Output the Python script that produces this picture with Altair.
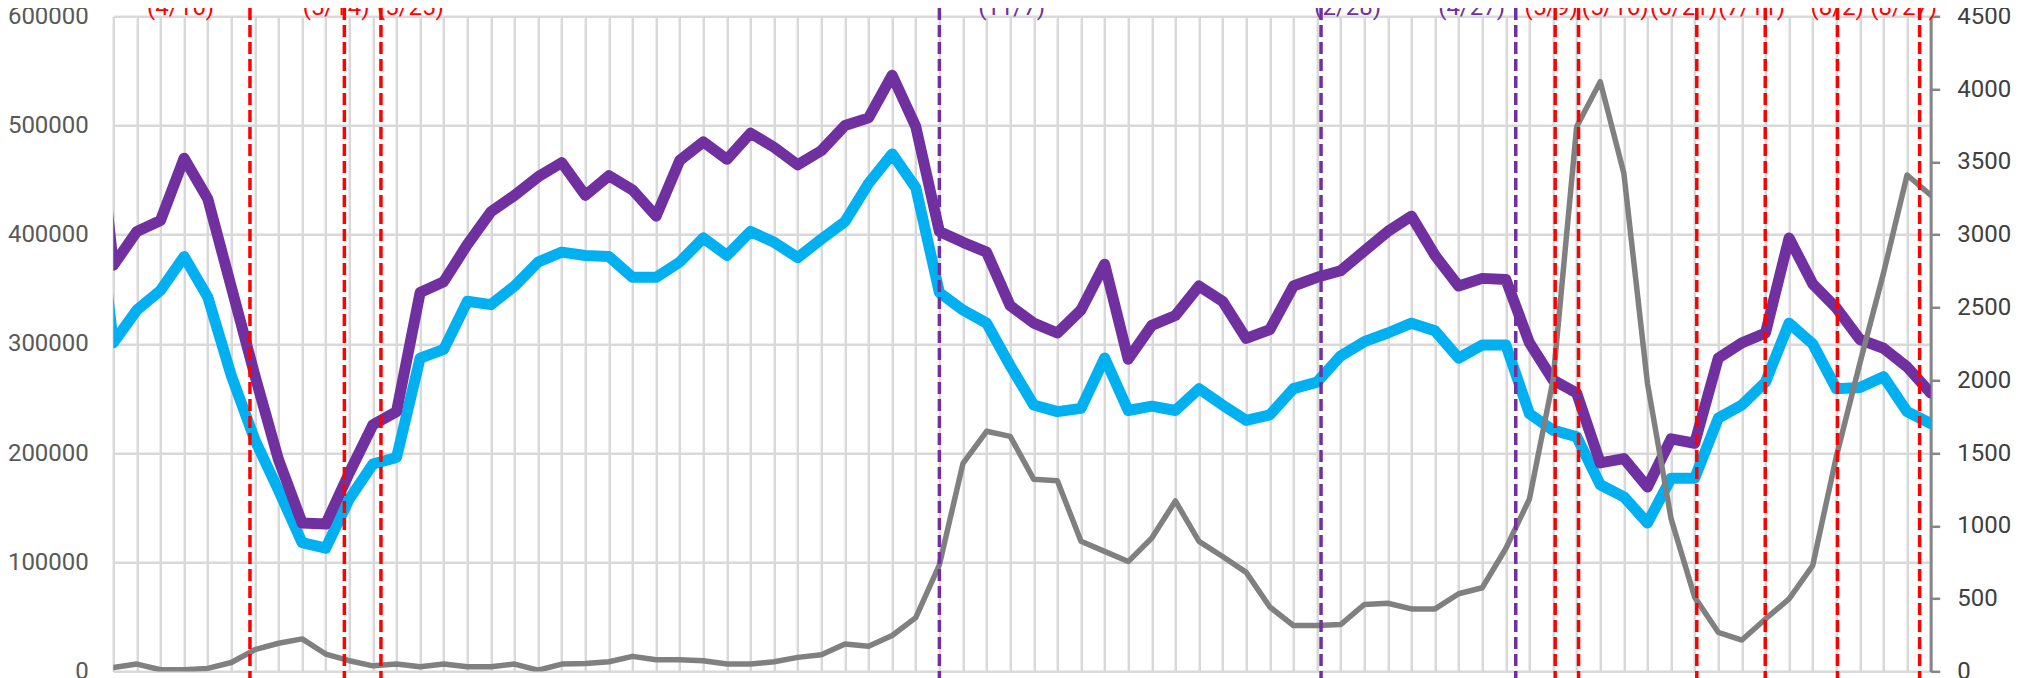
import altair as alt
import pandas as pd

# week index (-1 is a point just outside the left edge; the line is clipped there)
week = list(range(-1, 78))

purple_vals = [575000,
    372000, 403000, 413000, 470000, 433000, 352000, 271000, 194000, 136000, 135000,
    182000, 226000, 238000, 347000, 357000, 391000, 421000, 436000, 453000, 466000,
    436000, 454000, 441000, 417000, 468000, 485000, 469000, 493000, 480000, 464000,
    477000, 500000, 507000, 546000, 499000, 403000, 393000, 384000, 335000, 319000,
    310000, 331000, 373000, 286000, 317000, 326000, 353000, 339000, 305000, 313000,
    353000, 361000, 367000, 385000, 403000, 417000, 381000, 353000, 360000, 359000,
    301000, 267000, 255000, 191000, 195000, 169000, 213000, 209000, 287000, 301000,
    310000, 397000, 355000, 333000, 304000, 296000, 279000, 255000]

cyan_vals = [485000,
    301000, 331000, 349000, 380000, 343000, 271000, 212000, 166000, 118000, 113000,
    158000, 190000, 196000, 287000, 295000, 339000, 336000, 353000, 375000, 384000,
    381000, 380000, 361000, 361000, 375000, 397000, 381000, 403000, 393000, 379000,
    396000, 412000, 447000, 474000, 443000, 347000, 331000, 319000, 280000, 244000,
    238000, 241000, 287000, 239000, 243000, 239000, 259000, 244000, 230000, 235000,
    259000, 265000, 289000, 302000, 310000, 319000, 312000, 287000, 299000, 299000,
    236000, 221000, 215000, 171000, 160000, 136000, 177000, 177000, 232000, 244000,
    265000, 319000, 300000, 259000, 260000, 270000, 238000, 227000]

gray_vals = [40,
    28, 51, 12, 12, 21, 62, 150, 194, 224, 120,
    74, 39, 51, 32, 51, 32, 32, 51, 9, 51,
    55, 67, 104, 81, 81, 74, 51, 51, 67, 97,
    115, 189, 173, 247, 370, 732, 1430, 1650, 1615, 1320,
    1310, 894, 825, 755, 917, 1171, 894, 790, 681, 443,
    316, 316, 322, 460, 469, 430, 430, 534, 575, 845,
    1185, 2000, 3742, 4051, 3422, 1979, 1050, 511, 269, 216,
    361, 499, 727, 1475, 2117, 2735, 3410, 3272]

event_labels = ["(4/16)", "(5/14)", "(5/25)", "(11/7)", "(2/28)", "(4/27)",
                "(5/9)", "(5/16)", "(6/21)", "(7/11)", "(8/2)", "(8/27)"]
event_pos = [5.79, 9.79, 11.34, 35.0, 51.17, 59.42, 61.09, 62.08, 67.09, 69.99, 73.05, 76.53]
label_pos = [2.85, 9.44, 12.59, 38.06, 52.3, 57.55, 60.92, 63.63, 66.53, 69.42, 73.04, 75.86]
event_color = ["#FF0000", "#FF0000", "#FF0000", "#7030A0", "#7030A0", "#7030A0",
               "#FF0000", "#FF0000", "#FF0000", "#FF0000", "#FF0000", "#FF0000"]

left_ticks = [0, 100000, 200000, 300000, 400000, 500000, 600000]
right_ticks = [0, 500, 1000, 1500, 2000, 2500, 3000, 3500, 4000, 4500]
grid_weeks = list(range(0, 78))

df = pd.DataFrame({"week": week, "purple": purple_vals, "cyan": cyan_vals, "gray": gray_vals})
ev = pd.DataFrame({"label": event_labels, "pos": event_pos, "lpos": label_pos, "color": event_color})

xscale = alt.Scale(domain=[0, 77], nice=False, zero=False)
xaxis = alt.Axis(values=grid_weeks, grid=True, gridColor="#D9D9D9", gridWidth=2.5,
                 labels=False, ticks=False, domain=False, title=None)

left_y = alt.Scale(domain=[0, 600000], nice=False, zero=True)
left_axis = alt.Axis(values=left_ticks, format="d", grid=True, gridColor="#D9D9D9", gridWidth=2.5,
                     domain=False, ticks=False, labelPadding=25, labelFont="Roboto",
                     labelFontSize=24, labelColor="#595959", title=None)

base = alt.Chart(df)

cyan_line = base.mark_line(color="#00B0F0", strokeWidth=11, strokeJoin="round",
                           strokeCap="round", clip=True).encode(
    x=alt.X("week:Q", scale=xscale, axis=xaxis),
    y=alt.Y("cyan:Q", scale=left_y, axis=left_axis),
)
purple_line = base.mark_line(color="#7030A0", strokeWidth=11, strokeJoin="round",
                             strokeCap="round", clip=True).encode(
    x=alt.X("week:Q", scale=xscale, axis=xaxis),
    y=alt.Y("purple:Q", scale=left_y, axis=left_axis),
)
left = alt.layer(cyan_line, purple_line)

gray_line = base.mark_line(color="#808080", strokeWidth=5.5, strokeJoin="round",
                           strokeCap="round", clip=True).encode(
    x=alt.X("week:Q", scale=xscale, axis=xaxis),
    y=alt.Y("gray:Q", scale=alt.Scale(domain=[0, 4500], nice=False),
            axis=alt.Axis(orient="right", values=right_ticks, format="d", grid=False,
                          domain=True, domainColor="#868686", domainWidth=3, ticks=True,
                          tickSize=9, tickColor="#868686", tickWidth=2.5, labelPadding=17,
                          labelFont="Roboto", labelFontSize=24, labelColor="#404040",
                          title=None)),
)

rules = alt.Chart(ev).mark_rule(strokeWidth=3.5, strokeDash=[12, 5]).encode(
    x=alt.X("pos:Q", scale=xscale, axis=xaxis),
    y=alt.value(-8.3),
    y2=alt.value(672),
    color=alt.Color("color:N", scale=None),
)
labels = alt.Chart(ev).mark_text(font="Roboto", fontSize=24, baseline="alphabetic",
                                 align="center").encode(
    x=alt.X("lpos:Q", scale=xscale, axis=xaxis),
    y=alt.value(-1.8),
    text="label:N",
    color=alt.Color("color:N", scale=None),
)

chart = alt.layer(left, gray_line, rules, labels).resolve_scale(y="independent").properties(
    width=1817.4,
    height=655.2,
    autosize=alt.AutoSizeParams(type="none"),
    padding={"left": 105.3, "top": 8.3, "right": 85, "bottom": 7},
    background="white",
).configure_view(stroke=None)

chart.save("out.html", embed_options={"renderer": "svg", "actions": False})
